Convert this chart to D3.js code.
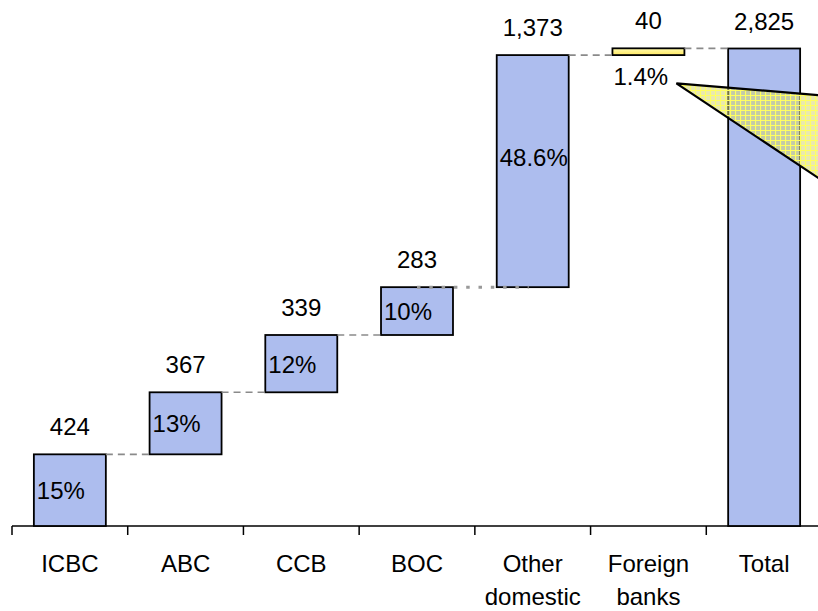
<!DOCTYPE html>
<html>
<head>
<meta charset="utf-8">
<script src="https://cdn.jsdelivr.net/npm/d3@7"></script>
<style>
  html, body { margin: 0; padding: 0; background: #fff; }
  svg { display: block; }
  text { font-family: "Liberation Sans", Arial, sans-serif; fill: #000; }
</style>
</head>
<body>
<svg id="chart" width="818" height="611"></svg>
<script>
const categories = ["ICBC", "ABC", "CCB", "BOC", "Other domestic", "Foreign banks", "Total"];
const values = [424, 367, 339, 283, 1373, 40, 2825];
const shares = ["15%", "13%", "12%", "10%", "48.6%", "1.4%", ""];
const isTotal = [false, false, false, false, false, false, true];
const highlight = [false, false, false, false, false, true, false];

const svg = d3.select("#chart");
const W = 818, H = 611;

const x = d3.scaleBand().domain(categories).range([12, 822]).paddingInner(0.378).paddingOuter(0.189);
const y = d3.scaleLinear().domain([0, 2825]).range([526, 48.5]);

// waterfall data
let cum = 0;
const bars = categories.map((c, i) => {
  let start, end;
  if (isTotal[i]) { start = 0; end = values[i]; }
  else { start = cum; end = cum + values[i]; cum = end; }
  return { cat: c, i, start, end, value: values[i], share: shares[i] };
});

const defs = svg.append("defs");
const grad = defs.append("linearGradient").attr("id", "ygrad").attr("x1", 0).attr("x2", 0).attr("y1", 0).attr("y2", 1);
grad.append("stop").attr("offset", "0%").attr("stop-color", "#fffbb0");
grad.append("stop").attr("offset", "100%").attr("stop-color", "#ffe860");

const pat = defs.append("pattern").attr("id", "hatch").attr("patternUnits", "userSpaceOnUse")
  .attr("width", 5).attr("height", 5);
pat.append("rect").attr("width", 5).attr("height", 5).attr("fill", "rgba(215,215,110,0.55)");
pat.append("path").attr("d", "M0,0.5H5M0.5,0V5").attr("stroke", "#ffff60").attr("stroke-width", 1.2);

// axis
const axisG = svg.append("g");
axisG.append("line").attr("x1", 12).attr("x2", 822).attr("y1", y(0)).attr("y2", y(0))
  .attr("stroke", "#000").attr("stroke-width", 1.5);
const tickXs = categories.map(c => x(c) - x.step() * x.paddingOuter() * 1 - (x.step() - x.bandwidth()) / 2 + (x.step() - x.bandwidth()) / 2);
categories.forEach(c => {
  const tx = x(c) - (x.step() - x.bandwidth()) / 2;
  axisG.append("line").attr("x1", tx).attr("x2", tx).attr("y1", y(0)).attr("y2", y(0) + 9)
    .attr("stroke", "#000").attr("stroke-width", 1.5);
});

// bars
svg.append("g").selectAll("rect").data(bars).join("rect")
  .attr("x", d => x(d.cat))
  .attr("width", x.bandwidth())
  .attr("y", d => y(d.end))
  .attr("height", d => y(d.start) - y(d.end))
  .attr("fill", d => highlight[d.i] ? "url(#ygrad)" : "#adbdee")
  .attr("stroke", "#000").attr("stroke-width", 1.8);

// connectors
const conn = svg.append("g");
for (let i = 0; i < bars.length - 1; i++) {
  const a = bars[i], b = bars[i + 1];
  const yy = y(a.end);
  const dotted = (i === 3);
  let x1 = x(a.cat) + x.bandwidth(), x2 = x(b.cat);
  if (dotted) { x1 = x(a.cat) + x.bandwidth() / 2; x2 = x(b.cat) + x.bandwidth() / 2 - 4; }
  if (i === 5) { /* foreign -> total at top of foreign */ }
  conn.append("line").attr("x1", x1).attr("x2", x2).attr("y1", yy).attr("y2", yy)
    .attr("stroke", dotted ? "#999" : "#8a8a8a")
    .attr("stroke-width", dotted ? 3 : 1.6)
    .attr("stroke-dasharray", dotted ? "3.5,8.8" : "7,5");
}

// value labels
svg.append("g").selectAll("text").data(bars).join("text")
  .attr("x", d => x(d.cat) + x.bandwidth() / 2)
  .attr("y", d => y(d.end) - 19)
  .attr("text-anchor", "middle")
  .attr("font-size", 24)
  .text(d => d3.format(",")(d.value));

// callout triangle
const fx = x("Foreign banks") + x.bandwidth();
const apexX = fx - 8, apexY = y(bars[5].end) + 35;
svg.append("path")
  .attr("d", `M${apexX},${apexY} L${apexX + 240},${apexY + 20} L${apexX + 240},${apexY + 160} Z`)
  .attr("fill", "url(#hatch)").attr("stroke", "#000").attr("stroke-width", 2.2)
  .attr("stroke-linejoin", "miter");

// share labels
svg.append("g").selectAll("text").data(bars.filter(d => d.share)).join("text")
  .attr("x", d => x(d.cat) + (highlight[d.i] ? 1 : 3))
  .attr("y", d => {
    if (highlight[d.i]) return y(d.start) + 30;
    const mid = (y(d.start) + y(d.end)) / 2;
    return (d.end - d.start > 1000 ? mid - 14 : mid) + 9;
  })
  .attr("font-size", 24)
  .text(d => d.share);

// category labels
const catG = svg.append("g");
categories.forEach(c => {
  const t = catG.append("text").attr("x", x(c) + x.bandwidth() / 2).attr("y", 572)
    .attr("text-anchor", "middle").attr("font-size", 24);
  c.split(" ").forEach((w, k) => {
    t.append("tspan").attr("x", x(c) + x.bandwidth() / 2).attr("dy", k === 0 ? 0 : 33).text(w);
  });
});
</script>
</body>
</html>
